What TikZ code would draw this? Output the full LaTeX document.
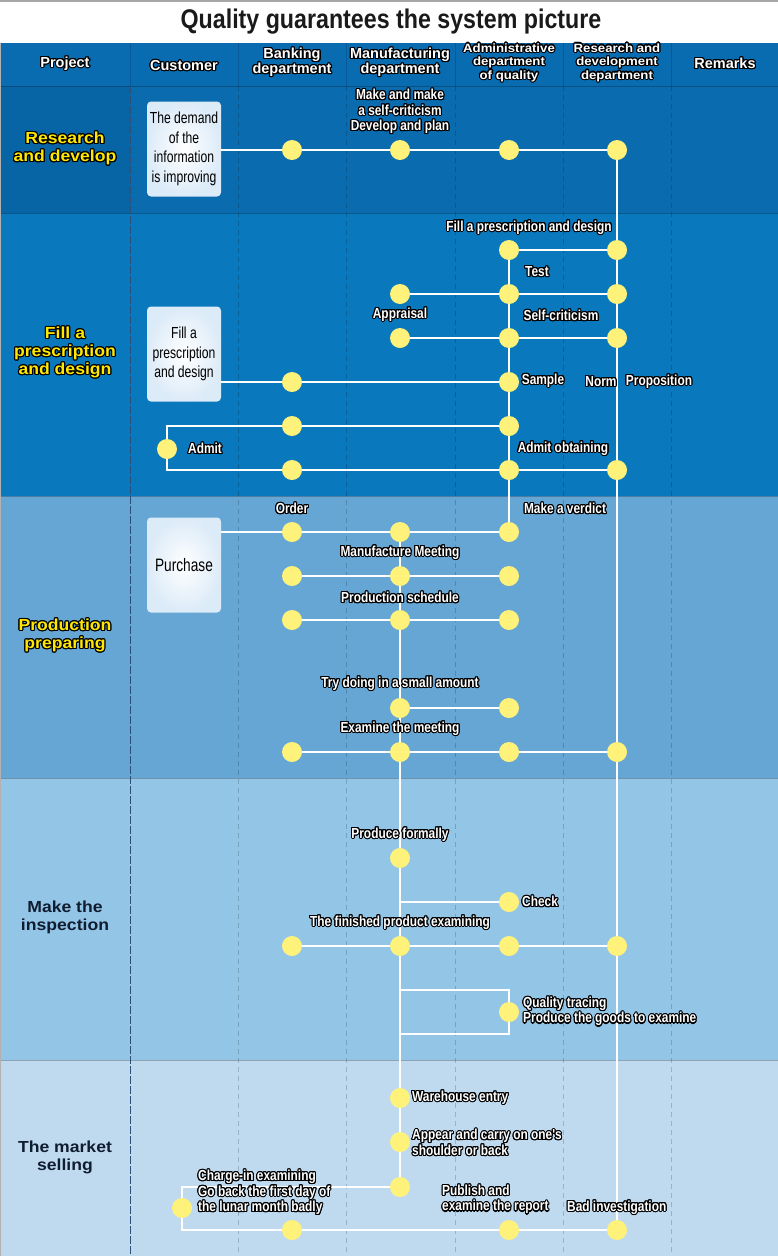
\documentclass[tikz,border=0pt]{standalone}
\usepackage{fontspec}
\setmainfont{Liberation Sans}
\newfontfamily\condf[FakeStretch=0.82]{Liberation Sans}
\newfontfamily\titlef[FakeStretch=0.86]{Liberation Sans}
\newfontfamily\boxf[FakeStretch=0.76]{Liberation Sans}
\newfontfamily\widef[FakeStretch=1.1]{Liberation Sans}
\usepackage{contour}
\contourlength{1.1pt}
\newcommand\ol[1]{\contour{black}{#1}}
\definecolor{hdrblue}{HTML}{0A6CB0}
\definecolor{hdrline}{HTML}{07599A}
\definecolor{bandA}{HTML}{0A6BAE}
\definecolor{bandAd}{HTML}{0765A5}
\definecolor{bandB}{HTML}{0A78BC}
\definecolor{bandC}{HTML}{66A6D5}
\definecolor{bandD}{HTML}{93C5E7}
\definecolor{bandE}{HTML}{BFDAEF}
\definecolor{dotyel}{HTML}{FFF27A}
\definecolor{cardedge}{HTML}{DCEBF8}
\definecolor{labyel}{HTML}{FFE800}
\definecolor{navytext}{HTML}{101C30}
\definecolor{titlec}{HTML}{1A1A1A}
\definecolor{divline}{HTML}{2A4F78}
\pgfdeclarelayer{bg}
\pgfdeclarelayer{ln}
\pgfsetlayers{bg,ln,main}
\begin{document}
\begin{tikzpicture}[x=1pt,y=-1pt,
  dot/.style={circle,fill=dotyel,minimum size=20pt,inner sep=0pt},
  flow/.style={draw=white,line width=2.2pt},
  lbl/.style={text=white,font=\condf\bfseries\fontsize{14.5}{15.5}\selectfont,inner sep=0pt,align=center},
  lbll/.style={lbl,anchor=west,align=left},
  card/.style={rounded corners=4pt,inner color=white,outer color=cardedge,minimum width=74pt,minimum height=95pt,align=center,text=black,font=\boxf\fontsize{16}{19.5}\selectfont,inner sep=0pt},
  hdr/.style={text=white,font=\bfseries\fontsize{14.5}{15}\selectfont,align=center,inner sep=0pt},
  hdrs/.style={hdr,font=\widef\bfseries\fontsize{12}{13.5}\selectfont},
  bandlbl/.style={font=\widef\bfseries\fontsize{16}{18}\selectfont,align=center,inner sep=0pt},
]
\useasboundingbox (0,0) rectangle (778,1256);
\begin{pgfonlayer}{bg}
  \fill[white] (0,0) rectangle (778,1256);
  \draw[black!35,line width=1.5pt] (0,1) -- (778,1);
  \fill[hdrblue] (0,43) rectangle (778,86);
  \fill[bandA] (0,86) rectangle (778,213);
  \fill[bandAd] (0,86) rectangle (130,213);
  \fill[bandB] (0,213) rectangle (778,496);
  \fill[bandC] (0,496) rectangle (778,778);
  \fill[bandD] (0,778) rectangle (778,1060);
  \fill[bandE] (0,1060) rectangle (778,1256);
  \foreach \y in {86,213,496,778,1060}
    \draw[black,opacity=0.25,line width=0.8pt] (0,\y) -- (778,\y);
  \foreach \x in {238,346,455,563,671}
    \draw[black,opacity=0.18,line width=0.8pt,dash pattern=on 5pt off 4pt] (\x,86) -- (\x,1256);
  \draw[divline,line width=0.9pt,dash pattern=on 8pt off 2pt] (130,86) -- (130,1256);
  \foreach \x in {130,238,346,455,563,671}
    \draw[hdrline,line width=0.8pt] (\x,43) -- (\x,86);
  \draw[black!30,line width=1pt] (0.5,43) -- (0.5,1256);
\end{pgfonlayer}

% title and header
\node[text=titlec,font=\titlef\bfseries\fontsize{27}{29}\selectfont,inner sep=0pt] (title) at (391,22) {Quality guarantees the system picture};
\node[hdr] (hProj) at (65,64) {\ol{Project}};
\node[hdr] (hCust) at (184,66) {\ol{Customer}};
\node[hdr] (hBank) at (292,63) {\ol{Banking}\\\ol{department}};
\node[hdr] (hManu) at (400,63) {\ol{Manufacturing}\\\ol{department}};
\node[hdrs] (hAdmin) at (509,63) {\ol{Administrative}\\\ol{department}\\\ol{of quality}};
\node[hdrs] (hRD) at (617,63) {\ol{Research and}\\\ol{development}\\\ol{department}};
\node[hdr] (hRem) at (725,64) {\ol{Remarks}};

% row labels
\node[bandlbl,text=labyel] (rowA) at (65,149) {\ol{Research}\\\ol{and develop}};
\node[bandlbl,text=labyel] (rowB) at (65,353) {\ol{Fill a}\\\ol{prescription}\\\ol{and design}};
\node[bandlbl,text=labyel] (rowC) at (65,636) {\ol{Production}\\\ol{preparing}};
\node[bandlbl,text=navytext] (rowD) at (65,917) {Make the\\inspection};
\node[bandlbl,text=navytext] (rowE) at (65,1157) {The market\\selling};

% band 1
\node[card] (c1) at (184,149) {The demand\\of the\\information\\is improving};
\node[dot] (r1B) at (292,150) {};
\node[dot] (r1M) at (400,150) {};
\node[dot] (r1A) at (509,150) {};
\node[dot] (r1R) at (617,150) {};
\node[lbl] (l1) at (400,112) {\ol{Make and make}\\\ol{a self-criticism}\\\ol{Develop and plan}};

% band 2
\node[dot] (f1A) at (509,250) {};
\node[dot] (f1R) at (617,250) {};
\node[lbl] (l2) at (529,228) {\ol{Fill a prescription and design}};
\node[dot] (f2M) at (400,294) {};
\node[dot] (f2A) at (509,294) {};
\node[dot] (f2R) at (617,294) {};
\node[lbl] (l3) at (537,272) {\ol{Test}};
\node[dot] (f3M) at (400,338) {};
\node[dot] (f3A) at (509,338) {};
\node[dot] (f3R) at (617,338) {};
\node[lbl] (l4) at (400,315) {\ol{Appraisal}};
\node[lbl] (l5) at (561,316) {\ol{Self-criticism}};
\node[card] (c2) at (184,354) {Fill a\\prescription\\and design};
\node[dot] (f4B) at (292,382) {};
\node[dot] (f4A) at (509,382) {};
\node[lbl] (l6) at (543,381) {\ol{Sample}};
\node[lbl] (l7) at (601,382) {\ol{Norm}};
\node[lbl] (l8) at (659,382) {\ol{Proposition}};
\node[dot] (f5B) at (292,426) {};
\node[dot] (f5A) at (509,426) {};
\node[dot] (adm) at (167,449) {};
\node[lbll] (l9) at (188,449) {\ol{Admit}};
\node[dot] (f6B) at (292,470) {};
\node[dot] (f6A) at (509,470) {};
\node[dot] (f6R) at (617,470) {};
\node[lbl] (l10) at (563,449) {\ol{Admit obtaining}};
\coordinate (k1) at (167,426);
\coordinate (k2) at (167,470);

% band 3
\node[card,font=\boxf\fontsize{18}{19.5}\selectfont] (c3) at (184,565) {Purchase};
\node[dot] (p1B) at (292,532) {};
\node[dot] (p1M) at (400,532) {};
\node[dot] (p1A) at (509,532) {};
\node[lbl] (l11) at (292,509) {\ol{Order}};
\node[lbl] (l12) at (565,509) {\ol{Make a verdict}};
\node[dot] (p2B) at (292,576) {};
\node[dot] (p2M) at (400,576) {};
\node[dot] (p2A) at (509,576) {};
\node[lbl] (l13) at (400,553) {\ol{Manufacture Meeting}};
\node[dot] (p3B) at (292,620) {};
\node[dot] (p3M) at (400,620) {};
\node[dot] (p3A) at (509,620) {};
\node[lbl] (l14) at (400,598) {\ol{Production schedule}};
\node[dot] (p4M) at (400,708) {};
\node[dot] (p4A) at (509,708) {};
\node[lbl] (l15) at (400,684) {\ol{Try doing in a small amount}};
\node[dot] (p5B) at (292,752) {};
\node[dot] (p5M) at (400,752) {};
\node[dot] (p5A) at (509,752) {};
\node[dot] (p5R) at (617,752) {};
\node[lbl] (l16) at (400,729) {\ol{Examine the meeting}};

% band 4
\node[dot] (i1M) at (400,858) {};
\node[lbl] (l17) at (400,835) {\ol{Produce formally}};
\node[dot] (i2A) at (509,902) {};
\node[lbll] (l18) at (522,902) {\ol{Check}};
\node[dot] (i3B) at (292,946) {};
\node[dot] (i3M) at (400,946) {};
\node[dot] (i3A) at (509,946) {};
\node[dot] (i3R) at (617,946) {};
\node[lbl] (l19) at (400,923) {\ol{The finished product examining}};
\coordinate (q1) at (400,990);
\coordinate (q2) at (509,990);
\coordinate (q3) at (509,1034);
\coordinate (q4) at (400,1034);
\node[dot] (i4A) at (509,1012) {};
\node[lbll] (l20) at (523,1012) {\ol{Quality tracing}\\\ol{Produce the goods to examine}};

% band 5
\node[dot] (s1M) at (400,1098) {};
\node[lbll] (l21) at (412,1098) {\ol{Warehouse entry}};
\node[dot] (s2M) at (400,1142) {};
\node[lbll] (l22) at (412,1143) {\ol{Appear and carry on one's}\\\ol{shoulder or back}};
\node[dot] (s3M) at (400,1187) {};
\coordinate (m1) at (182,1187);
\coordinate (m2) at (182,1230);
\node[dot] (sC) at (182,1208) {};
\node[lbll] (l23) at (198,1193) {\ol{Charge-in examining}\\\ol{Go back the first day of}\\\ol{the lunar month badly}};
\node[dot] (s4B) at (292,1230) {};
\node[dot] (s4A) at (509,1230) {};
\node[dot] (s4R) at (617,1230) {};
\node[lbll] (l24) at (442,1200) {\ol{Publish and}\\\ol{examine the report}};
\node[lbll] (l25) at (567,1208) {\ol{Bad investigation}};

\begin{pgfonlayer}{ln}
  \draw[flow] (c1.east |- r1B) -- (r1R);
  \draw[flow] (r1R) -- (s4R);
  \draw[flow] (f1A) -- (f1R);
  \draw[flow] (f1A) -- (p1A);
  \draw[flow] (f2M) -- (f2R);
  \draw[flow] (f3M) -- (f3R);
  \draw[flow] (c2.east |- f4B) -- (f4A);
  \draw[flow] (f5A) -- (k1) -- (k2) -- (f6R);
  \draw[flow] (c3.east |- p1B) -- (p1A);
  \draw[flow] (p1M) -- (s3M);
  \draw[flow] (p2B) -- (p2A);
  \draw[flow] (p3B) -- (p3A);
  \draw[flow] (p4M) -- (p4A);
  \draw[flow] (p5B) -- (p5R);
  \draw[flow] (p1M |- i2A) -- (i2A);
  \draw[flow] (i3B) -- (i3R);
  \draw[flow] (q1) -- (q2) -- (q3) -- (q4);
  \draw[flow] (s3M) -- (m1) -- (m2) -- (s4R);
\end{pgfonlayer}
\end{tikzpicture}
\end{document}
